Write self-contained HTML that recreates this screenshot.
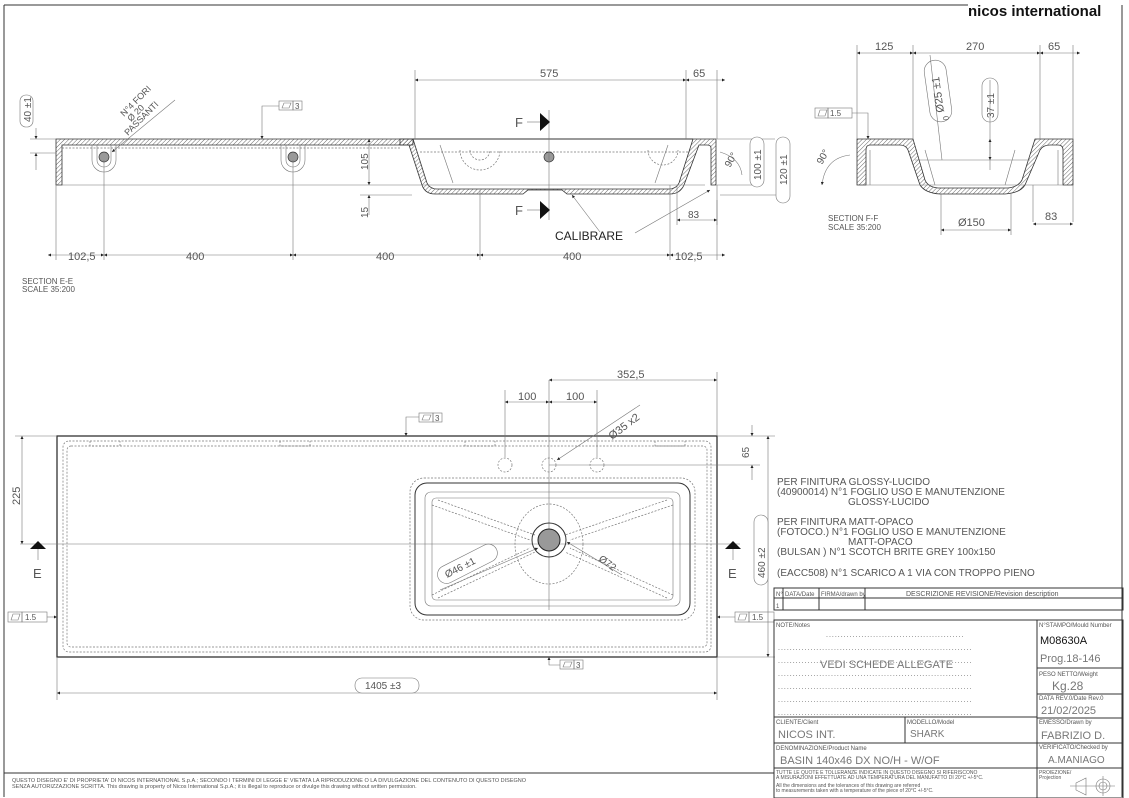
<!DOCTYPE html>
<html><head><meta charset="utf-8"><style>
html,body{margin:0;padding:0;background:#fff}
svg{display:block}
text{font-family:"Liberation Sans",sans-serif;fill:#555}
.l{stroke:#333;stroke-width:1;fill:none}
.t{stroke:#777;stroke-width:.6;fill:none}
.d{stroke:#777;stroke-width:.7;fill:none;stroke-dasharray:2 1.5}
.h{fill:url(#hat);stroke:#333;stroke-width:.8}
</style></head><body>
<svg width="1129" height="798" viewBox="0 0 1129 798" xmlns="http://www.w3.org/2000/svg">
<defs>
<pattern id="hat" width="3" height="3" patternUnits="userSpaceOnUse" patternTransform="rotate(45)"><line x1="0" y1="0" x2="0" y2="3" stroke="#444" stroke-width=".8"/></pattern>
<marker id="a" viewBox="0 0 10 10" refX="10" refY="5" markerWidth="7" markerHeight="5" orient="auto-start-reverse"><path d="M0,0L10,5L0,10z" fill="#222"/></marker>
</defs>
<!-- frame -->
<line class="l" x1="4" y1="5" x2="968" y2="5"/>
<line class="l" x1="4" y1="5" x2="4" y2="797"/>
<line class="l" x1="1122" y1="5" x2="1122" y2="797"/>
<text x="968" y="16" font-size="15" font-weight="bold" style="fill:#111">nicos international</text>

<!-- SECTION E-E -->
<path class="h" d="M56,139H413L413,145H62V185H56Z"/>
<path class="h" d="M413,139L427,183Q430,189 437,189H669Q676,189 679,183L693,139H716V185H711V148Q711,145 707,145H699L684,185Q680,194 670,194H567L562,190H528L523,194H435Q425,194 422,185L409,145H400V139Z"/>
<line class="l" x1="413" y1="139" x2="693" y2="139"/>
<line class="t" x1="62" y1="185" x2="705" y2="185"/>
<line class="d" x1="62" y1="148" x2="400" y2="148"/>
<line class="d" x1="420" y1="152" x2="690" y2="152"/>
<line class="t" x1="440" y1="145" x2="453" y2="183"/><line class="t" x1="668" y1="145" x2="655" y2="183"/>
<g class="t"><path d="M92,145V160A12,12 0 0 0 116,160V145"/><path d="M97,145V160A7,7 0 0 0 111,160V145"/>
<path d="M281,145V160A12,12 0 0 0 305,160V145"/><path d="M286,145V160A7,7 0 0 0 300,160V145"/></g>
<circle cx="104" cy="157" r="5" fill="#999" stroke="#333" stroke-width=".7"/>
<circle cx="293" cy="157" r="5" fill="#999" stroke="#333" stroke-width=".7"/>
<circle cx="549" cy="157" r="5" fill="#999" stroke="#333" stroke-width=".7"/>
<path class="d" d="M460,150A18,18 0 0 0 500,150M470,150A10,10 0 0 0 490,150M648,150A14,14 0 0 0 678,150"/>
<!-- dims E-E -->
<g class="t"><line x1="56" y1="185" x2="56" y2="260"/><line x1="104" y1="160" x2="104" y2="260"/><line x1="293" y1="160" x2="293" y2="260"/><line x1="480" y1="190" x2="480" y2="260"/><line x1="670" y1="185" x2="670" y2="260"/><line x1="717" y1="185" x2="717" y2="260"/>
<line x1="415" y1="70" x2="415" y2="139"/><line x1="686" y1="70" x2="686" y2="139"/><line x1="717" y1="70" x2="717" y2="139"/>
<line x1="30" y1="139" x2="56" y2="139"/><line x1="30" y1="153" x2="56" y2="153"/>
<line x1="360" y1="195" x2="412" y2="195"/><line x1="549" y1="110" x2="549" y2="220"/>
<line x1="717" y1="139" x2="775" y2="139"/><line x1="717" y1="185" x2="760" y2="185"/><line x1="720" y1="195" x2="790" y2="195"/>
<line x1="677" y1="185" x2="677" y2="225"/><line x1="717" y1="200" x2="717" y2="225"/></g>
<g class="t" marker-start="url(#a)" marker-end="url(#a)">
<line x1="48" y1="255" x2="104" y2="255" marker-start=""/><line x1="104" y1="255" x2="293" y2="255"/><line x1="293" y1="255" x2="480" y2="255"/><line x1="480" y1="255" x2="670" y2="255"/><line x1="670" y1="255" x2="725" y2="255" marker-end=""/>
<line x1="415" y1="80" x2="686" y2="80"/><line x1="686" y1="80" x2="725" y2="80" marker-end=""/>
<line x1="369" y1="139" x2="369" y2="185"/><line x1="677" y1="220" x2="717" y2="220"/>
<line x1="757" y1="139" x2="757" y2="185"/><line x1="783" y1="139" x2="783" y2="195"/></g>
<line class="t" x1="36" y1="128" x2="36" y2="139" marker-end="url(#a)"/><line class="t" x1="36" y1="170" x2="36" y2="153" marker-end="url(#a)"/>
<line class="t" x1="369" y1="215" x2="369" y2="195" marker-end="url(#a)"/>
<g font-size="11"><text x="68" y="260">102,5</text><text x="186" y="260">400</text><text x="376" y="260">400</text><text x="563" y="260">400</text><text x="675" y="260">102,5</text>
<text x="540" y="77">575</text><text x="693" y="77">65</text><text x="688" y="218" font-size="10">83</text></g>
<text transform="translate(368,170) rotate(-90)" font-size="10">105</text>
<text transform="translate(368,218) rotate(-90)" font-size="10">15</text>
<rect x="20" y="95" width="13" height="32" rx="6" class="t"/><text transform="translate(31,122) rotate(-90)" font-size="10">40 ±1</text>
<rect x="750" y="137" width="14" height="50" rx="7" class="t" style="fill:#fff"/><text transform="translate(761,180) rotate(-90)" font-size="10">100 ±1</text>
<rect x="776" y="137" width="14" height="66" rx="7" class="t" style="fill:#fff"/><text transform="translate(787,185) rotate(-90)" font-size="10">120 ±1</text>
<text transform="translate(730,168) rotate(-60)" font-size="10">90°</text><path class="t" d="M720,152Q740,158 742,175"/>
<text transform="translate(124,117) rotate(-45)" font-size="9">N°4 FORI</text><text transform="translate(131,122) rotate(-45)" font-size="9">Ø 20</text><text transform="translate(128,136) rotate(-45)" font-size="9">PASSANTI</text>
<line class="t" x1="175" y1="100" x2="112" y2="152" marker-end="url(#a)"/>
<polyline class="t" points="279,106 262,106 262,139" marker-end="url(#a)"/><rect x="279" y="101" width="14" height="9" class="t"/><rect x="293" y="101" width="9" height="9" class="t"/><text x="295" y="109" font-size="8">3</text><path class="t" d="M282,108l2,-5h7l-2,5z"/>
<text x="515" y="127" font-size="13">F</text><line class="t" x1="527" y1="122" x2="540" y2="122"/><path d="M540,113L550,122L540,131z" fill="#111"/>
<text x="515" y="215" font-size="13">F</text><line class="t" x1="527" y1="210" x2="540" y2="210"/><path d="M540,201L550,210L540,219z" fill="#111"/>
<text x="555" y="240" font-size="12" style="fill:#222">CALIBRARE</text>
<line class="t" x1="600" y1="232" x2="572" y2="195" marker-end="url(#a)"/><line class="t" x1="635" y1="233" x2="710" y2="190" marker-end="url(#a)"/>
<text x="22" y="284" font-size="8">SECTION E-E</text><text x="22" y="292" font-size="8">SCALE 35:200</text>

<!-- SECTION F-F -->
<path class="h" d="M857,139H913L925,180Q928,187 938,188H1008Q1018,187 1022,180L1035,139H1073V185H1063V150Q1063,145 1058,145H1050Q1043,145 1040,150L1025,185Q1020,193 1005,194H940Q925,193 920,185L908,150Q906,145 900,145H870Q866,145 866,150V185H857Z"/>
<line class="t" x1="866" y1="185" x2="1063" y2="185"/>
<path class="t" d="M870,150V185M925,150L935,185M1015,150L1005,185M1058,150V185M915,160H1030"/>
<g class="t"><line x1="857" y1="45" x2="857" y2="139"/><line x1="913" y1="45" x2="913" y2="139"/><line x1="1040" y1="45" x2="1040" y2="139"/><line x1="1073" y1="45" x2="1073" y2="139"/><line x1="941" y1="194" x2="941" y2="235"/><line x1="1011" y1="194" x2="1011" y2="235"/><line x1="1033" y1="185" x2="1033" y2="222"/><line x1="1073" y1="185" x2="1073" y2="222"/><line x1="930" y1="55" x2="942" y2="160"/><line x1="990" y1="80" x2="990" y2="170"/></g>
<g class="t" marker-start="url(#a)" marker-end="url(#a)"><line x1="857" y1="53" x2="913" y2="53"/><line x1="913" y1="53" x2="1040" y2="53"/><line x1="1040" y1="53" x2="1080" y2="53" marker-end=""/><line x1="941" y1="230" x2="1011" y2="230"/><line x1="1033" y1="224" x2="1073" y2="224"/><line x1="990" y1="139" x2="990" y2="160"/></g>
<g font-size="11"><text x="875" y="50">125</text><text x="966" y="50">270</text><text x="1048" y="50">65</text><text x="958" y="226">Ø150</text><text x="1045" y="220">83</text></g>
<rect x="927" y="60" width="22" height="62" rx="11" class="t" transform="rotate(-8 938 91)"/><text transform="translate(944,112) rotate(-98)" font-size="11">Ø25 ±1</text><text x="949" y="120" font-size="8" transform="rotate(-98 949 120)">0</text>
<rect x="982" y="78" width="16" height="44" rx="8" class="t"/><text transform="translate(994,118) rotate(-90)" font-size="10">37 ±1</text>
<rect x="815" y="108" width="13" height="10" class="t"/><rect x="828" y="108" width="24" height="10" class="t"/><text x="830" y="116" font-size="8">1.5</text><path class="t" d="M818,116l2,-6h7l-2,6z"/>
<polyline class="t" points="852,113 868,113 868,139" marker-end="url(#a)"/>
<path class="t" d="M850,155Q825,158 822,185" marker-end="url(#a)"/><text transform="translate(822,165) rotate(-60)" font-size="10">90°</text>
<text x="828" y="221" font-size="8">SECTION F-F</text><text x="828" y="230" font-size="8">SCALE 35:200</text>

<!-- PLAN -->
<rect x="57" y="436" width="660" height="221" class="l" style="stroke-width:1.3"/>
<rect x="63" y="441" width="648" height="211" rx="6" class="d"/>
<rect x="67" y="446" width="640" height="201" rx="4" class="d"/>
<rect x="410" y="478" width="285" height="142" rx="14" class="d"/>
<rect x="415" y="483" width="275" height="132" rx="12" class="l"/>
<rect x="425" y="492" width="255" height="114" rx="6" class="t"/>
<rect x="432" y="498" width="241" height="102" rx="4" class="t"/>
<path class="d" d="M432,505L530,540M432,595L530,548M673,505L570,540M673,595L570,548M438,500L535,535M438,598L535,552M667,500L565,535M667,598L565,552"/>
<ellipse cx="549" cy="544" rx="34" ry="40" class="d"/>
<line class="t" x1="20" y1="544" x2="740" y2="544"/><line class="t" x1="549" y1="380" x2="549" y2="610"/>
<circle cx="549" cy="540" r="17" class="l"/><circle cx="549" cy="540" r="11" fill="#999" stroke="#222"/>
<circle cx="505" cy="465" r="7" class="d"/><circle cx="549" cy="465" r="7" class="d"/><circle cx="597" cy="465" r="7" class="d"/>
<g class="d"><path d="M90,441v5h30v-5M280,441v5h30v-5M465,441v5h30v-5M655,441v5h30v-5"/></g>
<g class="t"><line x1="505" y1="390" x2="505" y2="457"/><line x1="597" y1="390" x2="597" y2="457"/><line x1="717" y1="372" x2="717" y2="436"/><line x1="549" y1="465" x2="760" y2="465"/><line x1="717" y1="436" x2="775" y2="436"/><line x1="717" y1="657" x2="775" y2="657"/><line x1="15" y1="436" x2="57" y2="436"/><line x1="57" y1="657" x2="57" y2="700"/><line x1="717" y1="657" x2="717" y2="700"/></g>
<g class="t" marker-start="url(#a)" marker-end="url(#a)"><line x1="549" y1="380" x2="717" y2="380"/><line x1="505" y1="402" x2="549" y2="402"/><line x1="549" y1="402" x2="597" y2="402"/><line x1="22" y1="436" x2="22" y2="544"/><line x1="768" y1="436" x2="768" y2="657"/><line x1="57" y1="693" x2="717" y2="693"/></g>
<line class="t" x1="752" y1="425" x2="752" y2="436" marker-end="url(#a)"/><line class="t" x1="752" y1="480" x2="752" y2="465" marker-end="url(#a)"/>
<line class="t" x1="640" y1="405" x2="557" y2="460" marker-end="url(#a)"/>
<g font-size="11"><text x="617" y="378">352,5</text><text x="518" y="400">100</text><text x="566" y="400">100</text></g>
<text transform="translate(612,440) rotate(-37)" font-size="11">Ø35 x2</text>
<text transform="translate(20,505) rotate(-90)" font-size="11">225</text><text transform="translate(749,458) rotate(-90)" font-size="10">65</text>
<rect x="754" y="515" width="14" height="70" rx="7" class="t" style="fill:#fff"/><text transform="translate(765,578) rotate(-90)" font-size="10">460 ±2</text>
<rect x="355" y="678" width="64" height="15" rx="7" class="t" style="fill:#fff"/><text x="365" y="689" font-size="10">1405 ±3</text>
<rect x="435" y="555" width="65" height="18" rx="9" class="t" transform="rotate(-27 467 564)"/><text transform="translate(447,578) rotate(-27)" font-size="10">Ø46 ±1</text>
<line class="t" x1="440" y1="590" x2="538" y2="548" marker-end="url(#a)"/>
<line class="t" x1="622" y1="575" x2="567" y2="542" marker-end="url(#a)"/><text transform="translate(598,560) rotate(37)" font-size="10">Ø72</text>
<path d="M30,549h16l-8,-8z" fill="#111"/><line class="t" x1="38" y1="549" x2="38" y2="560"/><text x="33" y="578" font-size="13">E</text>
<path d="M725,549h16l-8,-8z" fill="#111"/><line class="t" x1="733" y1="549" x2="733" y2="560"/><text x="728" y="578" font-size="13">E</text>
<g class="t"><rect x="419" y="413" width="14" height="9"/><rect x="433" y="413" width="9" height="9"/><path d="M422,420l2,-5h7l-2,5z"/>
<rect x="8" y="612" width="14" height="10"/><rect x="22" y="612" width="25" height="10"/><path d="M11,620l2,-6h7l-2,6z"/>
<rect x="735" y="612" width="14" height="10"/><rect x="749" y="612" width="25" height="10"/><path d="M738,620l2,-6h7l-2,6z"/>
<rect x="560" y="660" width="14" height="9"/><rect x="574" y="660" width="9" height="9"/><path d="M563,667l2,-5h7l-2,5z"/></g>
<text x="435" y="421" font-size="8">3</text><text x="25" y="620" font-size="8">1.5</text><text x="752" y="620" font-size="8">1.5</text><text x="576" y="668" font-size="8">3</text>
<polyline class="t" points="419,417 406,417 406,436" marker-end="url(#a)"/>
<line class="t" x1="47" y1="617" x2="57" y2="617" marker-end="url(#a)"/><line class="t" x1="735" y1="617" x2="717" y2="617" marker-end="url(#a)"/>
<polyline class="t" points="560,665 549,665 549,657" marker-end="url(#a)"/>

<!-- NOTES -->
<g font-size="10"><text x="777" y="485">PER FINITURA GLOSSY-LUCIDO</text><text x="777" y="495">(40900014) N°1 FOGLIO USO E MANUTENZIONE</text><text x="848" y="505">GLOSSY-LUCIDO</text>
<text x="777" y="525">PER FINITURA MATT-OPACO</text><text x="777" y="535">(FOTOCO.) N°1 FOGLIO USO E MANUTENZIONE</text><text x="848" y="545">MATT-OPACO</text><text x="777" y="555">(BULSAN ) N°1 SCOTCH BRITE GREY 100x150</text>
<text x="777" y="576">(EACC508) N°1 SCARICO A 1 VIA CON TROPPO PIENO</text></g>

<!-- TITLE BLOCK -->
<g class="l"><rect x="774" y="588" width="349" height="22"/><line x1="774" y1="598" x2="1123" y2="598"/><line x1="783" y1="588" x2="783" y2="610"/><line x1="819" y1="588" x2="819" y2="610"/><line x1="865" y1="588" x2="865" y2="610"/>
<rect x="774" y="620" width="349" height="178"/><line x1="1037" y1="620" x2="1037" y2="798"/><line x1="774" y1="717" x2="1037" y2="717"/><line x1="774" y1="743" x2="1123" y2="743"/><line x1="774" y1="768" x2="1123" y2="768"/><line x1="905" y1="717" x2="905" y2="743"/>
<line x1="1037" y1="668" x2="1123" y2="668"/><line x1="1037" y1="694" x2="1123" y2="694"/><line x1="1037" y1="718" x2="1123" y2="718"/>
<line x1="4" y1="773" x2="774" y2="773"/></g>
<g font-size="6"><text x="776" y="596">N°</text><text x="785" y="596">DATA/Date</text><text x="821" y="596">FIRMA/drawn by</text><text x="906" y="596" font-size="7">DESCRIZIONE REVISIONE/Revision description</text><text x="776" y="608">1</text>
<text x="776" y="627">NOTE/Notes</text><text x="1039" y="627">N°STAMPO/Mould Number</text><text x="1039" y="676">PESO NETTO/Weight</text><text x="1039" y="700">DATA REV.0/Date Rev.0</text>
<text x="776" y="724">CLIENTE/Client</text><text x="907" y="724">MODELLO/Model</text><text x="1039" y="724">EMESSO/Drawn by</text><text x="776" y="750">DENOMINAZIONE/Product Name</text><text x="1039" y="749">VERIFICATO/Checked by</text>
<text x="776" y="774" font-size="5">TUTTE LE QUOTE E TOLLERANZE INDICATE IN QUESTO DISEGNO SI RIFERISCONO</text><text x="776" y="779" font-size="5">A MISURAZIONI EFFETTUATE AD UNA TEMPERATURA DEL MANUFATTO DI 20°C +/-5°C.</text>
<text x="776" y="787" font-size="5">All the dimensions and the tolerances of this drawing are referred</text><text x="776" y="792" font-size="5">to measurements taken with a temperature of the piece of 20°C +/-5°C.</text>
<text x="1039" y="774" font-size="5">PROIEZIONE/</text><text x="1039" y="779" font-size="5">Projection</text></g>
<g font-size="7" style="letter-spacing:1px"><text x="826" y="637">...............................................</text><text x="778" y="650">..................................................................</text><text x="778" y="663">..................................................................</text><text x="778" y="676">..................................................................</text><text x="778" y="689">..................................................................</text><text x="778" y="702">..................................................................</text><text x="778" y="715">..................................................................</text></g>
<text x="820" y="668" font-size="11" style="fill:#777">VEDI SCHEDE ALLEGATE</text>
<text x="1040" y="644" font-size="11" style="fill:#111">M08630A</text><text x="1040" y="662" font-size="11" style="fill:#777">Prog.18-146</text>
<text x="1052" y="690" font-size="12" style="fill:#777">Kg.28</text><text x="1041" y="714" font-size="11" style="fill:#777">21/02/2025</text>
<text x="778" y="738" font-size="11" style="fill:#777">NICOS INT.</text><text x="910" y="737" font-size="10" style="fill:#777">SHARK</text><text x="1041" y="739" font-size="11" style="fill:#777">FABRIZIO D.</text>
<text x="780" y="764" font-size="11" style="fill:#777">BASIN 140x46 DX NO/H - W/OF</text><text x="1048" y="763" font-size="10" style="fill:#777">A.MANIAGO</text>
<path class="t" d="M1076,783l10,-5v17l-10,-5z"/><circle cx="1103" cy="786" r="7" class="t"/><circle cx="1103" cy="786" r="4" class="t"/><line class="t" x1="1103" y1="776" x2="1103" y2="796"/><line class="t" x1="1070" y1="786" x2="1115" y2="786"/>
<text x="12" y="782" font-size="5.5">QUESTO DISEGNO E' DI PROPRIETA' DI NICOS INTERNATIONAL S.p.A.; SECONDO I TERMINI DI LEGGE E' VIETATA LA RIPRODUZIONE O LA DIVULGAZIONE DEL CONTENUTO DI QUESTO DISEGNO</text>
<text x="12" y="788" font-size="5.5">SENZA AUTORIZZAZIONE SCRITTA. This drawing is property of Nicos International S.p.A.; it is illegal to reproduce or divulge this drawing without written permission.</text>
</svg>
</body></html>
